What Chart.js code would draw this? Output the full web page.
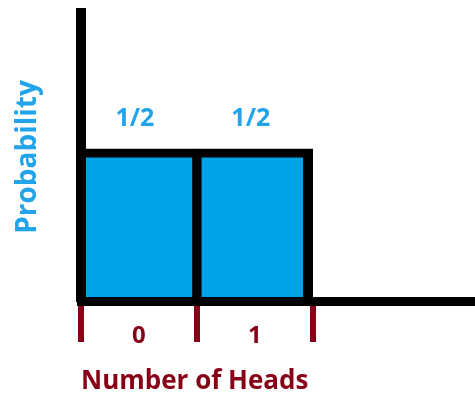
<!DOCTYPE html>
<html>
<head>
<meta charset="utf-8">
<script src="https://cdn.jsdelivr.net/npm/chart.js@4.4.1/dist/chart.umd.min.js"></script>
<style>
  html, body { margin: 0; padding: 0; background: #fff; }
  #wrap { width: 475px; height: 394px; position: relative; }
</style>
</head>
<body>
<div id="wrap"><canvas id="chart"></canvas></div>
<script>
// ── 数据：抛一次硬币，正面朝上的次数 ──
const heads      = [0, 1];
const probs      = [1 / 2, 1 / 2];
const probLabels = ['1/2', '1/2'];
const xTitle     = 'Number of Heads';
const yTitle     = 'Probability';

const BAR_BLUE  = '#00A2E8';
const TEXT_BLUE = '#22A4EA';
const DARK_RED  = '#880015';
const FONT      = "'Open Sans', sans-serif";

// 相邻两根柱子共用中间那条竖线，各画一半
const barBorders = heads.map((h, i) => ({
  top: 9,
  left: i === 0 ? 0 : 5,
  right: i === heads.length - 1 ? 10 : 5,
  bottom: 0,
}));

// 柱顶上方写概率
const valueLabels = {
  id: 'valueLabels',
  afterDatasetsDraw(chart) {
    const { ctx } = chart;
    const meta = chart.getDatasetMeta(0);
    ctx.save();
    ctx.font = `bold 25px ${FONT}`;
    ctx.fillStyle = TEXT_BLUE;
    ctx.textAlign = 'center';
    ctx.textBaseline = 'middle';
    meta.data.forEach((bar, i) => {
      ctx.fillText(probLabels[i], bar.x - 4, bar.y - 30);
    });
    ctx.restore();
  },
};

new Chart(document.getElementById('chart'), {
  type: 'bar',
  data: {
    datasets: [{
      data: heads.map((h, i) => ({ x: h, y: probs[i] })),
      backgroundColor: BAR_BLUE,
      borderColor: '#000',
      borderWidth: ctx => barBorders[ctx.dataIndex] || 0,
      borderSkipped: 'start',
      barPercentage: 1,
      categoryPercentage: 1,
    }],
  },
  options: {
    responsive: true,
    maintainAspectRatio: false,
    animation: false,
    layout: { padding: { top: 13, right: 0, bottom: 0, left: 0 } },
    plugins: { legend: { display: false }, tooltip: { enabled: false } },
    scales: {
      x: {
        type: 'linear',
        offset: false,
        min: -0.5,
        max: 2.9,
        afterBuildTicks: scale => { scale.ticks = heads.map(v => ({ value: v })); },
        afterFit: scale => { scale.height = 93; },
        grid: {
          offset: true,
          drawOnChartArea: false,
          drawTicks: true,
          tickLength: 41,
          color: DARK_RED,
          lineWidth: 6,
        },
        border: { color: '#000', width: 9, z: 1 },
        ticks: {
          color: DARK_RED,
          font: { family: FONT, size: 24, weight: 'bold' },
          padding: -20,
          maxRotation: 0,
          autoSkip: false,
          callback: v => String(v),
        },
        title: {
          display: true,
          text: xTitle,
          align: 'start',
          color: DARK_RED,
          font: { family: FONT, size: 26, weight: 'bold' },
          padding: { top: 0, bottom: -3 },
        },
      },
      y: {
        min: 0,
        max: 0.947,
        afterFit: scale => { scale.width = 81; },
        grid: { display: false },
        ticks: { display: false },
        border: { color: '#000', width: 10, z: 1 },
        title: {
          display: true,
          text: yTitle,
          color: TEXT_BLUE,
          font: { family: FONT, size: 28, weight: 'bold' },
          padding: { top: 11, bottom: 0 },
        },
      },
    },
  },
  plugins: [valueLabels],
});
</script>
</body>
</html>
